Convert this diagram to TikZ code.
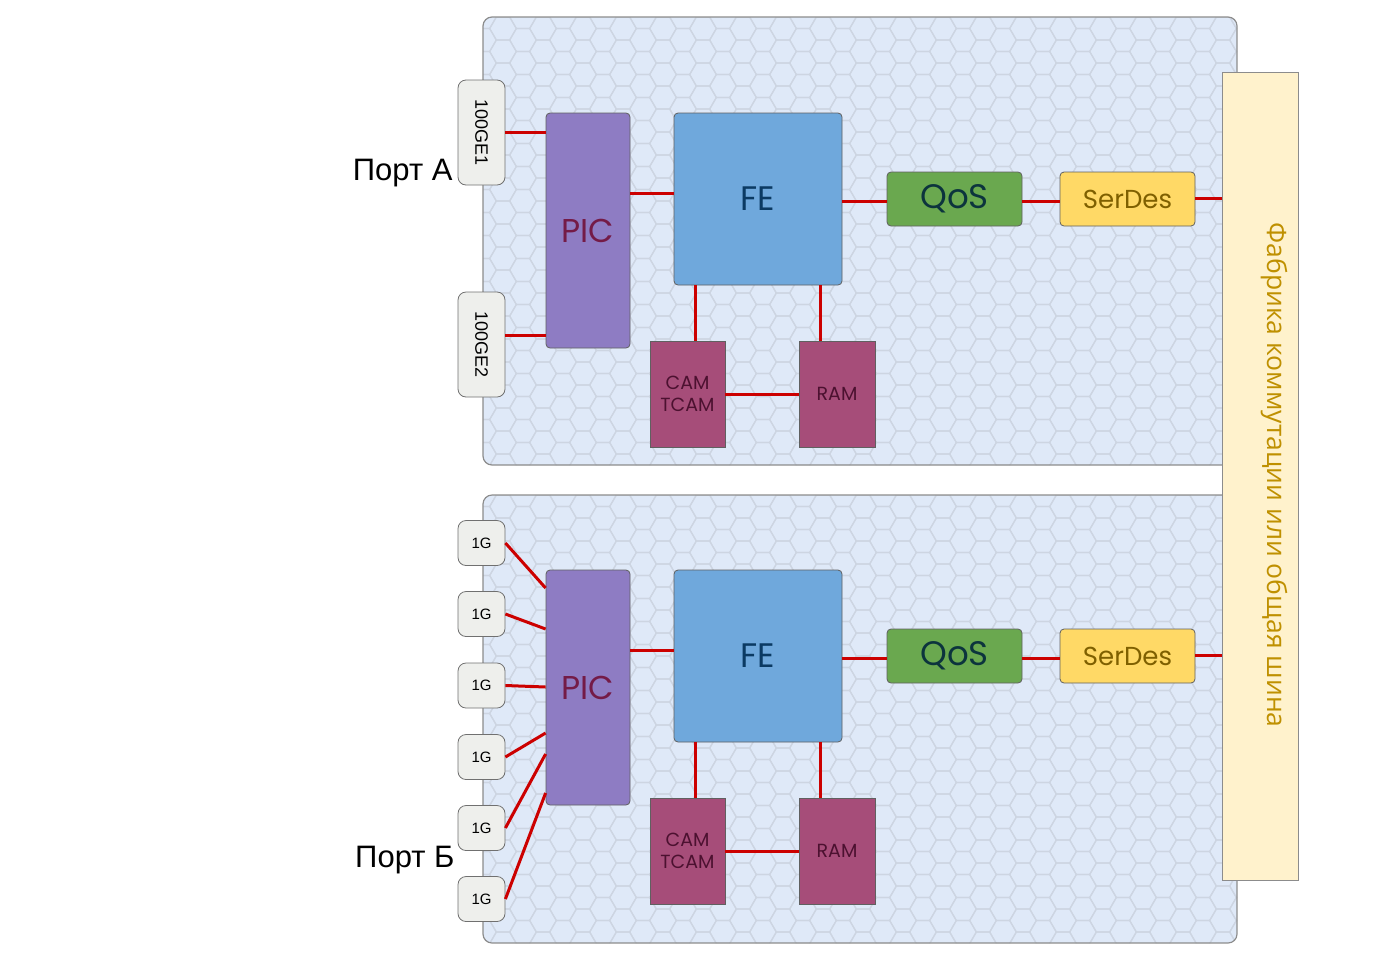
\documentclass[tikz,border=0pt]{standalone}
\usepackage{fontspec}
\setmainfont{Liberation Sans}
\newfontfamily\geofont{Poppins}
\newfontfamily\fabfont{Open Sans}
\usepackage{tikz}
\usetikzlibrary{positioning}
\definecolor{boardbg}{HTML}{DFE9F8}
\definecolor{hexgray}{HTML}{CDD5E2}
\definecolor{boardline}{HTML}{8C8C8C}
\definecolor{portfill}{HTML}{EEEFEC}
\definecolor{portline}{HTML}{707070}
\definecolor{blokline}{HTML}{606060}
\definecolor{linkred}{HTML}{CC0000}
\definecolor{picfill}{HTML}{8E7CC3}
\definecolor{pictext}{HTML}{741B47}
\definecolor{fefill}{HTML}{6FA8DC}
\definecolor{fetext}{HTML}{0B3A63}
\definecolor{qosfill}{HTML}{6AA84F}
\definecolor{qostext}{HTML}{0C343D}
\definecolor{serfill}{HTML}{FFD966}
\definecolor{sertext}{HTML}{7F6000}
\definecolor{memfill}{HTML}{A64D79}
\definecolor{memtext}{HTML}{4C1130}
\definecolor{fabfill}{HTML}{FFF2CC}
\definecolor{fabtext}{HTML}{BF9000}
\tikzset{
    %Define style for the boards
    board/.style={
           rectangle,
           rounded corners=9pt,
           draw=boardline, line width=1.2pt,
           minimum width=754pt,
           minimum height=448pt},
    %Define style for the ports
    port/.style={
           rectangle,
           rounded corners=8pt,
           draw=portline, fill=portfill, line width=0.8pt,
           minimum width=47pt,
           inner sep=0pt},
    %Define style for the blocks
    blok/.style={
           rectangle,
           rounded corners=4pt,
           draw=blokline, line width=0.8pt,
           inner sep=0pt},
    mem/.style={
           blok,
           sharp corners,
           fill=memfill, text=memtext,
           minimum height=106pt,
           align=center,
           font=\geofont\fontsize{19}{22}\selectfont},
    % Define link style
    link/.style={
           draw=linkred,
           line width=3pt},
    hexline/.style={
           draw=hexgray,
           line width=1.2pt}
}
\begin{document}
\begin{tikzpicture}[x=1pt, y=-1pt]
\useasboundingbox (0,0) rectangle (1399,967);
%boards with honeycomb
\foreach \by in {17,495}{
  \begin{scope}
    \clip[rounded corners=9pt] (483,\by) rectangle (1237,\by+448);
    \fill[boardbg] (483,\by) rectangle (1237,\by+448);
    \foreach \i in {0,...,38}{
      \foreach \j in {-1,...,20}{
        \pgfmathsetmacro\hx{483+20*\i}
        \pgfmathsetmacro\hy{\by+23*\j+11.5*mod(\i,2)}
        \draw[hexline] (\hx,\hy) +(0:13.3) -- +(60:13.3) -- +(120:13.3) -- +(180:13.3) -- +(240:13.3) -- +(300:13.3) -- cycle;
      }
    }
  \end{scope}
}
\node[board] (brdA) at (860,241) {};
\node[board] (brdB) at (860,719) {};
%fabric
\node[rectangle, draw=boardline, line width=0.8pt, fill=fabfill,
      minimum width=76pt, minimum height=808pt] (fab) at (1260,476) {};
\node[rotate=-90, text=fabtext, font=\fabfont\fontsize{26.5}{30}\selectfont]
      (fabtxt) at (1274,475) {Фабрика коммутации или общая шина};
%blocks of both boards
\foreach \s/\dy in {A/0,B/457}{
  \node[blok, fill=picfill, text=pictext, minimum width=84pt, minimum height=235pt,
        font=\geofont\fontsize{33}{40}\selectfont] (pic\s) at (588,230.5+\dy) {PIC};
  \node[blok, fill=fefill, text=fetext, minimum width=168pt, minimum height=172pt,
        font=\geofont\fontsize{34}{40}\selectfont] (fe\s) at (758,199+\dy) {FE};
  \node[blok, fill=qosfill, text=qostext, minimum width=135pt, minimum height=54pt,
        font=\geofont\fontsize{34}{40}\selectfont] (qos\s) at (954.5,199+\dy) {QoS};
  \node[blok, fill=serfill, text=sertext, minimum width=135pt, minimum height=54pt,
        font=\geofont\fontsize{26}{30}\selectfont] (ser\s) at (1127.5,199+\dy) {SerDes};
  \node[mem, minimum width=75pt] (cam\s) at (687.5,394+\dy) {CAM\\TCAM};
  \node[mem, minimum width=76pt] (ram\s) at (837,394+\dy) {RAM};
  %links
  \draw[link] ([yshift=6]fe\s.west) -- ([yshift=6]fe\s.west -| pic\s.east);
  \draw[link] ([yshift=-2]fe\s.east) -- ([yshift=-2]fe\s.east -| qos\s.west);
  \draw[link] ([yshift=-2]qos\s.east) -- ([yshift=-2]qos\s.east -| ser\s.west);
  \draw[link] ([yshift=1]ser\s.east) -- ([yshift=1]ser\s.east -| fab.west);
  \draw[link] ([xshift=7.5]cam\s.north) -- ([xshift=7.5]cam\s.north |- fe\s.south);
  \draw[link] ([xshift=-17]ram\s.north) -- ([xshift=-17]ram\s.north |- fe\s.south);
  \draw[link] (cam\s.east) -- (ram\s.west);
}
%ports A
\node[port, minimum height=105pt, font=\fontsize{18}{20}\selectfont] (ge1) at (481.5,132.5) {\rotatebox{-90}{100GE1}};
\node[port, minimum height=105pt, font=\fontsize{18}{20}\selectfont] (ge2) at (481.5,344.5) {\rotatebox{-90}{100GE2}};
\draw[link] (ge1.east) -- (ge1.east -| picA.west);
\draw[link] ([yshift=9.5]ge2.east) -- ([yshift=9.5]ge2.east -| picA.west);
%ports B
\foreach \n/\py/\off in {1/543/99.5, 2/614/58.5, 3/685.5/0.5, 4/757/-45.5, 5/828/-66.5, 6/899/-105.5}{
  \node[port, minimum height=45pt, font=\fontsize{15}{18}\selectfont] (g\n) at (481.5,\py) {1G};
  \draw[link] (g\n.east) -- ([yshift=\off]picB.west);
}
%labels
\node[anchor=east, font=\fontsize{31}{36}\selectfont] (portA) at (456,173) {Порт А};
\node[anchor=east, font=\fontsize{31}{36}\selectfont] (portB) at (458,860) {Порт Б};
\end{tikzpicture}
\end{document}
